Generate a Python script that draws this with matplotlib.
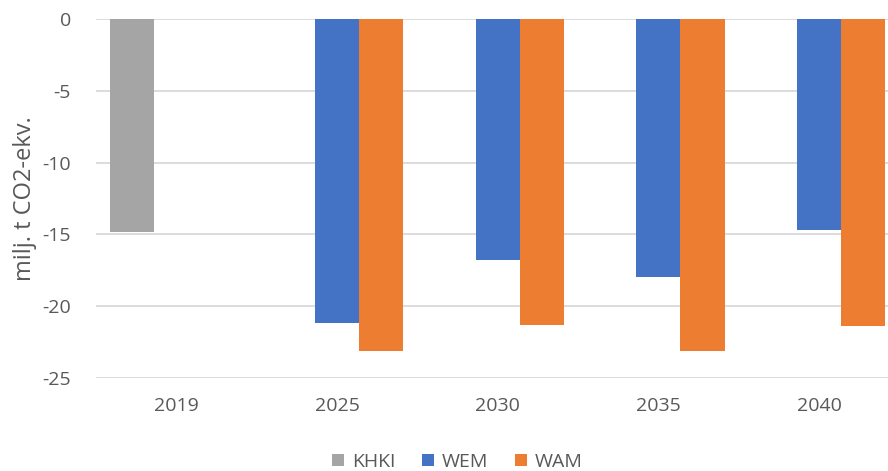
import matplotlib
matplotlib.use("Agg")
import matplotlib.pyplot as plt
import numpy as np

years = ["2019", "2025", "2030", "2035", "2040"]
khki = [-14.8, np.nan, np.nan, np.nan, np.nan]
wem = [np.nan, -21.2, -16.8, -18.0, -14.7]
wam = [np.nan, -23.1, -21.3, -23.1, -21.4]
series = [("KHKI", khki, "#A5A5A5"), ("WEM", wem, "#4472C4"), ("WAM", wam, "#ED7D31")]

plt.rcParams["font.family"] = ["Open Sans", "DejaVu Sans"]
plt.rcParams["axes.unicode_minus"] = False
fig = plt.figure(figsize=(8.88, 4.71), dpi=100)
# plot area runs a bit past the right edge, as in the reference crop
ax = fig.add_axes([0.108, 0.1975, 0.905, 0.762])

x = np.arange(len(years))
w = 0.274
for i, (name, vals, col) in enumerate(series):
    ax.bar(x + (i - 1) * w, vals, w, color=col, label=name, zorder=3)

ax.set_ylim(-25, 0)
ax.set_xlim(-0.5, len(years) - 0.5)
ax.set_yticks(np.arange(-25, 1, 5))
ax.set_xticks(x)
ax.set_xticklabels(years)
ax.grid(axis="y", color="#D9D9D9", linewidth=1.3, zorder=0)
for s in ax.spines.values():
    s.set_visible(False)
ax.tick_params(length=0, labelsize=14, colors="#595959")
ax.tick_params(axis="x", pad=14)
ax.tick_params(axis="y", pad=18)
ax.set_ylabel("milj. t CO2-ekv.", fontsize=17, color="#595959", labelpad=4)

ax.legend(loc="center", bbox_to_anchor=(0.45, -0.234), ncol=3, frameon=False,
          fontsize=14, labelcolor="#595959", handlelength=0.6, handleheight=0.6,
          columnspacing=1.4, handletextpad=0.4, borderpad=0)

fig.savefig("out.png", dpi=100)
